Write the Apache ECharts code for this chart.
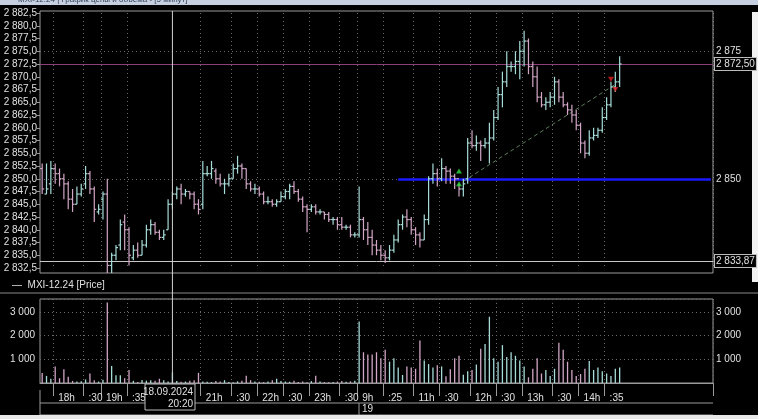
<!DOCTYPE html>
<html>
<head>
<meta charset="utf-8">
<script src="https://cdn.jsdelivr.net/npm/echarts@6/dist/echarts.min.js"></script>
<style>
  html, body { margin: 0; padding: 0; background: #000; }
  #chart { width: 758px; height: 419px; }
</style>
</head>
<body>
<div id="chart"></div>
<script>
// bars: [open, close, low, high]
const ohlc = [
  [2852,2848,2847,2853],[2847,2848,2847,2853],[2849,2852,2847,2853.5],[2852,2851,2849,2853],[2851,2850,2848.5,2852],
  [2850,2849,2846,2851],[2849,2846,2844,2849.5],[2846,2845,2843.5,2848],[2845,2847,2845,2848.5],[2847,2848,2846.5,2849],
  [2849,2851,2848,2852.5],[2851,2848,2847,2851.5],[2848,2844,2841.5,2848.5],[2843.5,2844,2843,2845],[2846,2847,2842,2847.5],
  [2847,2833,2831.5,2850],[2833,2835,2831.5,2835.5],[2835,2836.5,2834,2837],[2837,2841,2836,2842],[2841.5,2840,2836,2843],
  [2840,2835,2833,2840.5],[2834.5,2836,2834,2837],[2836,2835,2834.5,2837.5],[2835,2837,2835,2838],[2837,2840,2836.5,2841],
  [2840,2841,2839,2842],[2841,2839.5,2839,2841.5],[2839.5,2838.5,2838,2840],[2838.5,2839,2838,2840],[2840,2845,2840,2846],
  [2845,2847,2844,2847.5],[2847,2848,2846,2848.5],[2848,2847,2845,2849],[2847,2847.5,2846.5,2848],[2847.5,2847,2846,2847.5],
  [2847,2845,2844,2847.5],[2845,2844,2843,2846],[2845,2851,2844,2853.5],[2851,2851,2850.5,2852.5],[2851,2852,2850,2853.5],
  [2851.5,2850,2849,2852],[2850,2849,2848.5,2851],[2849,2849,2847,2850],[2849,2850,2848.5,2851],[2850,2852,2850,2853],
  [2852,2852.5,2851,2854.5],[2852.5,2852,2850,2853],[2852,2849,2848,2852],[2849,2848,2847.5,2849.5],[2848,2848,2847,2849],
  [2848,2847,2846.5,2848.5],[2847,2845.5,2845,2847.5],[2845.5,2845.5,2845,2846.5],[2845.5,2845,2844.5,2846],[2845,2845.5,2844.5,2846],
  [2845.5,2846.5,2845.5,2847.5],[2846.5,2847.5,2846,2848],[2847.5,2848.5,2846,2849],[2848.5,2847.5,2847,2849.5],[2847.5,2846,2845.5,2848],
  [2846,2844.5,2843.5,2846.5],[2844.5,2844,2839.5,2845],[2844,2844.5,2843.5,2845],[2844.5,2843.5,2843,2845],[2843.5,2843.5,2843,2844],
  [2843.5,2843,2842,2843.5],[2843,2842,2841.5,2843.5],[2842,2842,2841,2842.5],[2842,2841,2840,2842.5],[2841,2840.5,2840,2842.5],
  [2840.5,2840.5,2840,2841],[2840.5,2839,2838.5,2841],[2839,2839,2838.5,2839.5],[2839,2842,2838.5,2848.5],[2842,2840,2838,2842.5],
  [2840,2838.5,2837,2841.5],[2838.5,2837,2835,2840],[2837,2836,2835,2838],[2836,2835,2834,2837],[2835,2834.5,2833.5,2836],
  [2834.5,2836,2834,2837],[2836,2838,2835.5,2839],[2838,2841,2837.5,2842],[2841,2842.5,2840,2843],[2842.5,2842,2840.5,2844],
  [2842,2840,2839,2842.5],[2840,2839,2837,2840.5],[2839,2838,2836.5,2839.5],[2838,2842,2838,2843],[2842,2850,2841,2850.5],
  [2850,2851,2849,2853],[2851,2850,2848.5,2852],[2850,2852,2849.5,2854],[2852,2851.5,2849,2852.5],[2851.5,2850.5,2849,2852],
  [2850.5,2850,2848,2851],[2850,2848,2846.5,2849],[2848,2849,2846.5,2850],[2850,2857,2849,2858],[2857,2856.5,2856,2859.5],
  [2856.5,2857,2855.5,2858.5],[2857,2856.5,2853.5,2857.5],[2856.5,2857,2856,2858],[2857,2858,2853,2861],[2858,2862,2857.5,2863.5],
  [2862,2866.5,2861.5,2868],[2866.5,2869,2864,2871],[2869,2872,2868,2875],[2872,2872,2871,2873],[2872,2873,2870.5,2875],
  [2873,2875,2869.5,2877],[2875,2877,2872,2879],[2877,2872,2870.5,2877.5],[2872,2870,2868,2873],[2870,2866,2865,2872],
  [2866,2864.5,2864,2867],[2864.5,2865,2863.5,2866],[2865,2866,2864,2867],[2866,2869,2864.5,2870],[2869,2866,2865,2869.5],
  [2866,2864.5,2864,2867],[2864.5,2863.5,2862.5,2865],[2863.5,2862.5,2861,2864.5],[2862.5,2860.5,2859.5,2863.5],[2860.5,2857,2855,2861],
  [2857,2855,2854,2857.5],[2855,2858,2854.5,2859.5],[2858,2858.5,2857.5,2860],[2858.5,2859.5,2858,2860],[2859.5,2862,2859,2864],
  [2862,2864.5,2861.5,2866],[2864.5,2868,2864,2869],[2868,2869,2867,2871],[2869,2872.5,2868,2874]
];
const volumes = [
  420,300,180,700,200,580,260,90,60,70,150,400,120,60,140,3400,720,330,330,200,550,90,40,130,100,120,90,180,120,60,450,
  80,50,60,100,120,430,60,50,40,80,60,120,40,30,70,90,310,120,60,50,40,60,120,180,80,60,50,100,40,60,30,80,310,60,40,30,40,60,80,50,70,90,
  2600,1300,1200,1200,1300,1050,1400,900,1050,650,340,700,650,600,1800,950,800,650,750,700,280,580,1050,1150,350,
  500,550,780,1450,1650,2800,1050,900,1600,1100,1300,1150,950,700,240,600,1050,400,550,300,600,1700,1400,900,550,
  300,380,600,930,550,650,500,400,300,600,655
];
const slotCount = 155;
const labelIdx  = [3, 10, 14, 20, 37, 44, 50, 56, 62, 69, 73, 79, 86, 92, 99, 105, 111, 118, 124, 130];
const labelText = ['18h', ':30', '19h', ':35', '21h', ':30', '22h', ':30', '23h', ':30', '9h', ':25', '11h', ':30', '12h', ':30', '13h', ':30', '14h', ':35'];
const buyMarks  = [[96, 2851.5], [96, 2849]];
const sellMarks = [[131, 2869.5], [132, 2867.5]];
const trendLine = [[97, 2849.5], [132, 2868.5]];
const cursorIdx = 30;
const lastVolume = 655;

const upColor = '#a6dcd8';
const downColor = '#d2a6c6';
const axisText = '#e0e0e0';
const frame = '#9a9a9a';

const cats = [];
for (let i = 0; i < slotCount; i++) {
  const k = labelIdx.indexOf(i);
  cats.push(k >= 0 ? labelText[k] : '');
}
const isLabel = (i) => labelIdx.indexOf(i) >= 0;

function fmt(v, dec) {
  const s = v.toFixed(dec).replace('.', ',');
  const parts = s.split(',');
  const int = parts[0].replace(/\B(?=(\d{3})+(?!\d))/g, ' ');
  return parts.length > 1 ? int + ',' + parts[1] : int;
}

const chart = echarts.init(document.getElementById('chart'));

function renderBar(params, api) {
  const x = api.value(0);
  const o = api.coord([x, api.value(1)]);
  const c = api.coord([x, api.value(2)]);
  const l = api.coord([x, api.value(3)]);
  const h = api.coord([x, api.value(4)]);
  const color = api.value(2) >= api.value(1) ? upColor : downColor;
  const st = { stroke: color, lineWidth: 1.2 };
  return {
    type: 'group',
    children: [
      { type: 'line', shape: { x1: h[0], y1: h[1], x2: l[0], y2: l[1] }, style: st },
      { type: 'line', shape: { x1: o[0] - 2, y1: o[1], x2: o[0], y2: o[1] }, style: st },
      { type: 'line', shape: { x1: c[0], y1: c[1], x2: c[0] + 2, y2: c[1] }, style: st }
    ]
  };
}

const barData = ohlc.map((d, i) => [i, d[0], d[1], d[2], d[3]]);
const volData = volumes.map((v, i) => ({
  value: v,
  itemStyle: { color: ohlc[i][1] >= ohlc[i][0] ? upColor : downColor }
}));

const dotted = { color: '#6a6a6a', type: [1, 3], width: 1 };
const boxLabel = (txt, col, bg) => ({
  show: true, position: 'end', formatter: txt, color: col || axisText,
  backgroundColor: bg || '#000', borderColor: col || '#bbb', borderWidth: 1,
  padding: [1, 1], fontSize: 10, fontFamily: 'Liberation Sans', distance: 2
});

chart.setOption({
  backgroundColor: '#000',
  animation: false,
  textStyle: { fontFamily: 'Liberation Sans' },
  grid: [
    { left: 40, right: 45, top: 13, height: 255 },
    { left: 40, right: 45, top: 299, height: 84, show: true, borderColor: frame, borderWidth: 1 }
  ],
  xAxis: [
    {
      type: 'category', data: cats, gridIndex: 0,
      axisLine: { show: false }, axisTick: { show: false }, axisLabel: { show: false },
      splitLine: { show: true, interval: (i) => isLabel(i), lineStyle: dotted }
    },
    {
      type: 'category', data: cats, gridIndex: 1, offset: 7,
      axisLine: { show: true, lineStyle: { color: frame } },
      axisTick: { show: true, length: 13, interval: (i) => isLabel(i), lineStyle: { color: frame } },
      axisLabel: { interval: (i) => isLabel(i), color: axisText, fontSize: 10, align: 'left', margin: 3, padding: [0, 0, 0, 3] },
      splitLine: { show: true, interval: (i) => isLabel(i), lineStyle: dotted }
    }
  ],
  yAxis: [
    {
      gridIndex: 0, min: 2832.5, max: 2882.5, interval: 2.5,
      axisLine: { show: false }, axisTick: { show: true, length: 3, lineStyle: { color: frame } },
      axisLabel: { color: axisText, fontSize: 10, margin: 3, formatter: (v) => fmt(v, 1) },
      splitLine: { show: false }
    },
    {
      gridIndex: 0, position: 'right', min: 2832.5, max: 2882.5, interval: 2.5,
      axisLine: { show: false }, axisTick: { show: false },
      axisLabel: { color: axisText, fontSize: 10, margin: 3,
        formatter: (v) => (v === 2875 || v === 2850) ? fmt(v, 0) : '' },
      splitLine: { show: false }
    },
    {
      gridIndex: 1, min: 0, max: 3550, interval: 1000,
      axisLine: { show: false }, axisTick: { show: false },
      axisLabel: { color: axisText, fontSize: 10, margin: 5, showMaxLabel: false,
        formatter: (v) => (v === 0 || v > 3000) ? '' : fmt(v, 0) },
      splitLine: { show: true, lineStyle: dotted }
    },
    {
      gridIndex: 1, position: 'right', min: 0, max: 3550, interval: 1000,
      axisLine: { show: false }, axisTick: { show: false },
      axisLabel: { color: axisText, fontSize: 10, margin: 3, showMaxLabel: false,
        formatter: (v) => (v === 0 || v > 3000) ? '' : fmt(v, 0) },
      splitLine: { show: false }
    }
  ],
  series: [
    {
      type: 'custom', xAxisIndex: 0, yAxisIndex: 0, renderItem: renderBar, data: barData,
      encode: { x: 0, y: [1, 2, 3, 4] }, z: 5,
      markLine: {
        silent: true, symbol: 'none', animation: false,
        data: [
          { yAxis: 2875, lineStyle: dotted, label: { show: false } },
          { yAxis: 2850, lineStyle: dotted, label: { show: false } },
          { yAxis: 2872.5, lineStyle: { color: '#8c3f78', type: 'solid', width: 1 }, label: boxLabel('2 872,50') },
          { yAxis: 2833.87, lineStyle: { color: '#c8c8c8', type: 'solid', width: 1 }, label: boxLabel('2 833,87') },
          [{ coord: [82, 2850], lineStyle: { color: '#1a1aff', type: 'solid', width: 2.5 }, label: { show: false } },
           { coord: [slotCount - 1, 2850] }],
          [{ coord: trendLine[0], lineStyle: { color: '#5d7f5d', type: [4, 3], width: 1 }, label: { show: false } },
           { coord: trendLine[1] }]
        ]
      }
    },
    {
      type: 'scatter', xAxisIndex: 0, yAxisIndex: 0, data: buyMarks, symbol: 'triangle',
      symbolSize: [6, 5], itemStyle: { color: '#33dd44' }, z: 6
    },
    {
      type: 'scatter', xAxisIndex: 0, yAxisIndex: 0, data: sellMarks, symbol: 'triangle', symbolRotate: 180,
      symbolSize: [6, 5], itemStyle: { color: '#dd2222' }, z: 6
    },
    {
      type: 'bar', xAxisIndex: 1, yAxisIndex: 2, data: volData, barWidth: 1.3,
      markLine: {
        silent: true, symbol: 'none',
        data: [{ yAxis: lastVolume, lineStyle: { opacity: 0 }, label: boxLabel(String(lastVolume), '#ff3a3a', '#5a0000') }]
      }
    }
  ]
});

const cx = chart.convertToPixel({ xAxisIndex: 0 }, cursorIdx);
chart.setOption({
  graphic: [
    { type: 'rect', shape: { x: 0, y: 0, width: 758, height: 5 }, style: { fill: '#c6d0e0' } },
    { type: 'text', left: 18, top: -4, style: { text: 'MXI-12.24 | График цены и объема - [5 минут]', fill: '#33415a', fontSize: 8 } },
    { type: 'rect', shape: { x: 40, y: 11, width: 673, height: 262 }, style: { fill: 'none', stroke: frame, lineWidth: 1 } },
    { type: 'rect', shape: { x: 752, y: 12, width: 6, height: 270 }, style: { fill: '#f2f2f2' } },
    { type: 'line', shape: { x1: 0, y1: 293, x2: 758, y2: 293 }, style: { stroke: '#8a8a8a', lineWidth: 1 } },
    { type: 'text', left: 12, top: 280, style: { text: '—  MXI-12.24 [Price]', fill: axisText, fontSize: 10 } },
    { type: 'line', shape: { x1: 40, y1: 403, x2: 713, y2: 403 }, style: { stroke: frame, lineWidth: 1 } },
    { type: 'line', shape: { x1: 40, y1: 415, x2: 713, y2: 415 }, style: { stroke: frame, lineWidth: 1 } },
    { type: 'line', shape: { x1: 40, y1: 390, x2: 40, y2: 415 }, style: { stroke: frame, lineWidth: 1 } },
    { type: 'line', shape: { x1: 359, y1: 403, x2: 359, y2: 415 }, style: { stroke: frame, lineWidth: 1 } },
    { type: 'text', left: 362, top: 404, style: { text: '19', fill: axisText, fontSize: 10 } },
    { type: 'line', shape: { x1: cx, y1: 11, x2: cx, y2: 384 }, style: { stroke: '#d0d0d0', lineWidth: 1 }, z: 10 },
    { type: 'rect', shape: { x: 145, y: 384, width: 50, height: 26 }, style: { fill: '#000', stroke: '#bbb', lineWidth: 1 }, z: 11 },
    { type: 'text', x: 193, y: 386, style: { text: '18.09.2024\n20:20', fill: axisText, fontSize: 10, align: 'right', lineHeight: 12 }, z: 12 },
    { type: 'rect', shape: { x: 0, y: 415, width: 758, height: 4 }, style: { fill: '#e8e8e8' } }
  ]
});
</script>
</body>
</html>
